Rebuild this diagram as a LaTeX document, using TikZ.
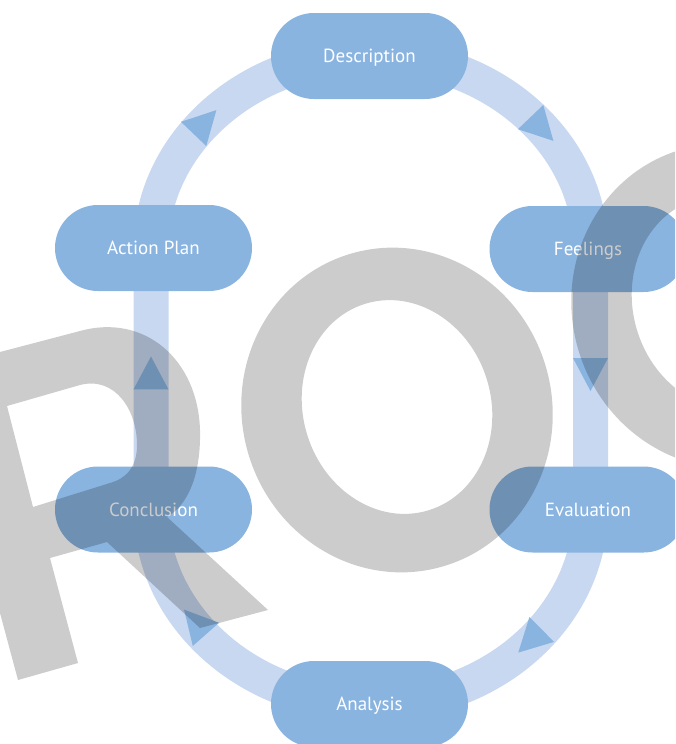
\documentclass[tikz,border=0pt]{standalone}
\usepackage{fontspec}
\setmainfont{PT Sans}
\definecolor{pillblue}{HTML}{8AB4E0}
\definecolor{trackblue}{HTML}{C8D8F0}
\newcommand\flowtri[3]{\fill[flowarrow, shift={(#1,#2)}] (#3:16.5) -- (#3+133.3:24.05) -- (#3-133.3:24.05) -- cycle;}
\begin{document}
\begin{tikzpicture}[x=1pt,y=-1pt,
  pill/.style={fill=pillblue, text=white, rounded corners=42.9pt, minimum width=197pt, minimum height=86pt, inner sep=0pt, text height=13.5pt, text depth=0pt, font=\fontsize{19}{22}\selectfont},
  track/.style={draw=trackblue, line width=35pt},
  flowarrow/.style={fill=pillblue},
  wmark/.style={fill=black, fill opacity=0.2, even odd rule}]
\useasboundingbox (0,0) rectangle (675,744);
\clip (0,0) rectangle (675,744);
% track loop
\coordinate (tl) at (151,249);
\coordinate (tr) at (590.5,249);
\coordinate (bl) at (151,509);
\coordinate (br) at (590.5,509);
\draw[track] (bl) -- (tl) arc[start angle=180, end angle=0, x radius=219.75pt, y radius=193pt] -- (br) arc[start angle=0, end angle=-180, x radius=219.75pt, y radius=195pt] -- cycle;
% direction arrows
\flowtri{542}{129}{46.3}
\flowtri{590.5}{374.5}{90}
\flowtri{530}{641}{135.4}
\flowtri{195}{622}{-131.4}
\flowtri{151}{373}{-90}
\flowtri{205}{122}{-46.3}
% stages
\node[pill] (desc) at (369.5,56) {Description};
\node[pill] (feel) at (588,249) {Feelings};
\node[pill] (eval) at (588,509.5) {Evaluation};
\node[pill] (anal) at (369.5,704) {Analysis};
\node[pill] (concl) at (153.5,509.5) {Conclusion};
\node[pill] (plan) at (153.5,248) {Action Plan};
% watermark
\fill[wmark] (-65,371) -- (0,352) -- (80,331) .. controls (145,313) and (198,360) .. (200,430)
  .. controls (201,475) and (188,505) .. (167,517) -- (268,610) -- (200,628) -- (107,542) -- (50,558)
  -- (78,663) -- (18,680) -- cycle
  (7,406) -- (80,385) .. controls (115,376) and (137,410) .. (137,445) .. controls (137,468) and (125,479) .. (110,483) -- (33,507) -- cycle;
\fill[wmark] (397,410) ellipse[x radius=155pt, y radius=163pt, rotate=17]
  (397,407) ellipse[x radius=94pt, y radius=108pt, rotate=17];
\fill[wmark] (727,306) ellipse[x radius=155pt, y radius=163pt, rotate=17]
  (727,303) ellipse[x radius=94pt, y radius=108pt, rotate=17];
\end{tikzpicture}
\end{document}
